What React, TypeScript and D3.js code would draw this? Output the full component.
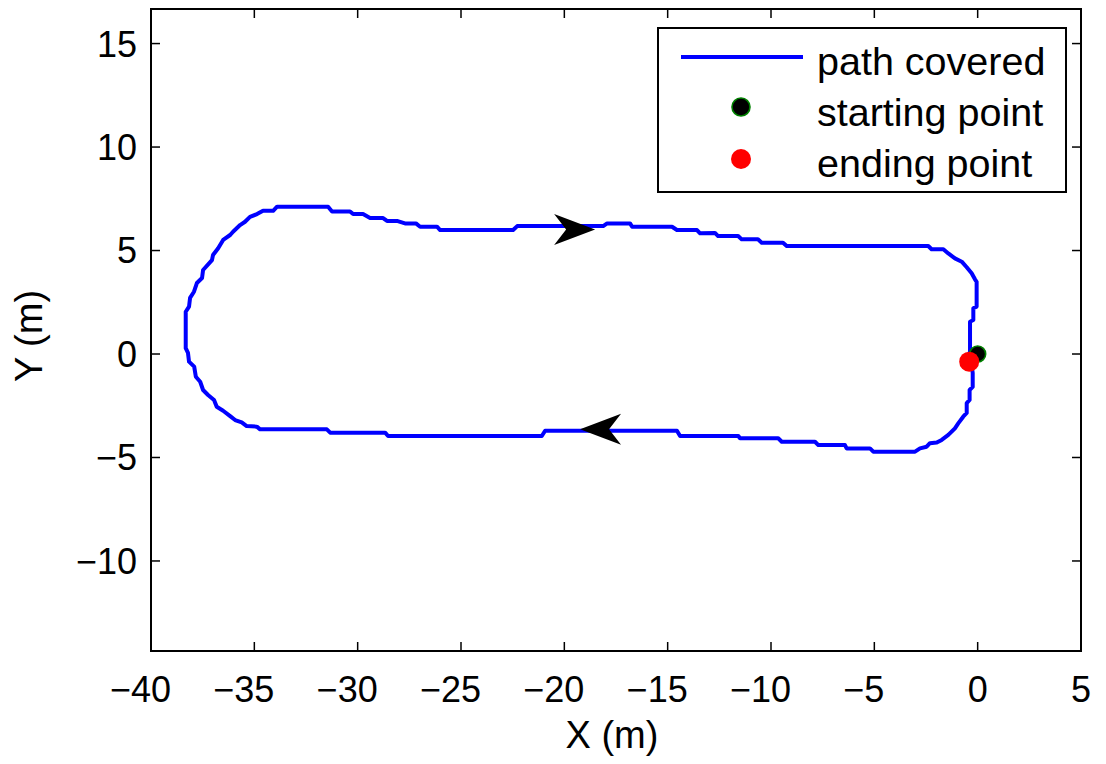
import React from "react";
import * as d3 from "d3";

// ---- data ----
const xTicks = [-40, -35, -30, -25, -20, -15, -10, -5, 0, 5];
const yTicks = [-10, -5, 0, 5, 10, 15];
const xDomain = [-40, 5];
const yDomain = [-14.35, 16.67];

// path covered: [x, y] in metres
const pathPoints: [number, number][] = [
  [-0.35, -0.1], [-0.24, -0.92], [-0.24, -1.59], [-0.39, -1.74], [-0.39, -2.22],
  [-0.53, -2.37], [-0.53, -2.85], [-0.7, -3.03], [-0.94, -3.35], [-1.1, -3.59],
  [-1.42, -3.91], [-1.74, -4.15], [-1.98, -4.28], [-2.31, -4.31], [-2.47, -4.48],
  [-2.79, -4.56], [-3.03, -4.72], [-5.05, -4.72], [-5.21, -4.56], [-6.34, -4.56],
  [-6.42, -4.4], [-7.71, -4.4], [-7.87, -4.24], [-9.48, -4.24], [-9.65, -4.07],
  [-11.5, -4.07], [-11.58, -3.96], [-14.4, -3.96], [-14.55, -3.71], [-20.93, -3.71],
  [-21.09, -3.96], [-28.53, -3.96], [-28.67, -3.8], [-31.33, -3.8], [-31.49, -3.64],
  [-34.72, -3.64], [-34.88, -3.51], [-35.37, -3.48], [-35.61, -3.3], [-35.93, -3.19],
  [-36.17, -3.0], [-36.51, -2.74], [-36.82, -2.55], [-36.95, -2.22], [-37.24, -1.98],
  [-37.48, -1.74], [-37.62, -1.34], [-37.83, -1.1], [-37.91, -0.61], [-38.16, -0.37],
  [-38.21, 0.05], [-38.32, 0.28], [-38.32, 2.04], [-38.16, 2.29], [-38.11, 2.71],
  [-37.92, 3.01], [-37.78, 3.43], [-37.53, 3.67], [-37.48, 4.06], [-37.05, 4.54],
  [-37.0, 4.78], [-36.75, 5.11], [-36.51, 5.51], [-36.17, 5.75], [-36.03, 5.91],
  [-35.69, 6.23], [-35.45, 6.39], [-35.21, 6.63], [-34.87, 6.76], [-34.58, 6.92],
  [-34.09, 6.92], [-33.9, 7.12], [-31.43, 7.12], [-31.24, 6.89], [-30.37, 6.89],
  [-30.22, 6.76], [-29.74, 6.76], [-29.4, 6.57], [-28.77, 6.57], [-28.58, 6.43],
  [-28.1, 6.43], [-27.71, 6.31], [-27.18, 6.31], [-26.98, 6.15], [-26.16, 6.15],
  [-26.01, 5.99], [-22.48, 5.99], [-22.28, 6.18], [-18.12, 6.18], [-17.93, 6.31],
  [-16.82, 6.31], [-16.72, 6.15], [-14.79, 6.15], [-14.55, 5.99], [-13.58, 5.99],
  [-13.43, 5.83], [-12.71, 5.85], [-12.56, 5.7], [-11.59, 5.7], [-11.42, 5.54],
  [-10.63, 5.54], [-10.45, 5.38], [-9.42, 5.38], [-9.24, 5.22], [-2.39, 5.22],
  [-2.23, 5.06], [-1.66, 5.06], [-1.42, 4.86], [-1.1, 4.62], [-0.77, 4.46],
  [-0.53, 4.19], [-0.29, 3.9], [-0.13, 3.61], [-0.05, 3.49], [-0.05, 2.29],
  [-0.21, 2.21], [-0.21, 1.64], [-0.37, 1.56], [-0.37, 0.19], [-0.41, -0.37],
];

const startPoint: [number, number] = [0, 0];
const endPoint: [number, number] = [-0.41, -0.37];

// direction arrows: tip position and heading (degrees, 0 = +x)
const arrowTips: [number, number][] = [[-18.51, 6.02], [-19.24, -3.64]];
const arrowHeadings = [0, 180];

const legendLabels = ["path covered", "starting point", "ending point"];

// ---- layout ----
const W = 1106;
const H = 764;
const plot = { left: 151, right: 1081, top: 9, bottom: 651 };
const FONT = "'Liberation Sans', Arial, Helvetica, sans-serif";
const TICK_FS = 36;

export default function App() {
  const x = d3.scaleLinear().domain(xDomain).range([plot.left, plot.right]);
  const y = d3.scaleLinear().domain(yDomain).range([plot.bottom, plot.top]);
  const line = d3
    .line<[number, number]>()
    .x((d) => x(d[0]))
    .y((d) => y(d[1]));

  const tickLen = 9;
  const arrowShape = "M0,0 L-41,-15.5 L-29,0 L-41,15.5 Z";

  const lg = { x: 658, y: 28, w: 408, h: 164 };
  const markerY = [57, 107, 159];
  const textBase = [74.5, 126, 176.5];
  const fmt = (t: number) => (t < 0 ? "\u2212" + Math.abs(t) : String(t));

  return (
    <svg
      width={W}
      height={H}
      style={{ position: "absolute", left: 0, top: 0, background: "#fff" }}
      fontFamily={FONT}
    >
      <rect x={0} y={0} width={W} height={H} fill="#fff" />
      {/* path */}
      <path
        d={line(pathPoints) ?? ""}
        fill="none"
        stroke="#0000ff"
        strokeWidth={4}
        strokeLinejoin="round"
      />
      {/* arrows */}
      {arrowTips.map((t, i) => (
        <path
          key={i}
          d={arrowShape}
          fill="#000"
          transform={`translate(${x(t[0])},${y(t[1])}) rotate(${-arrowHeadings[i]})`}
        />
      ))}
      {/* start and end points */}
      <circle cx={x(startPoint[0])} cy={y(startPoint[1])} r={8} fill="#000" stroke="#008000" strokeWidth={1.6} />
      <circle cx={x(endPoint[0])} cy={y(endPoint[1])} r={10} fill="#ff0000" />

      {/* frame */}
      <rect
        x={plot.left}
        y={plot.top}
        width={plot.right - plot.left}
        height={plot.bottom - plot.top}
        fill="none"
        stroke="#000"
        strokeWidth={2}
      />
      {/* ticks */}
      {xTicks.map((t) => {
        const digits = String(Math.abs(t));
        const halfW = (digits.length * 0.556 * TICK_FS) / 2;
        return (
          <g key={"x" + t}>
            <line x1={x(t)} x2={x(t)} y1={plot.bottom} y2={plot.bottom - tickLen} stroke="#000" strokeWidth={1.5} />
            <line x1={x(t)} x2={x(t)} y1={plot.top} y2={plot.top + tickLen} stroke="#000" strokeWidth={1.5} />
            <text x={x(t)} y={702} textAnchor="middle" fontSize={TICK_FS} fill="#000">
              {digits}
            </text>
            {t < 0 && (
              <text x={x(t) - halfW} y={702} textAnchor="end" fontSize={TICK_FS} fill="#000">
                {"\u2212"}
              </text>
            )}
          </g>
        );
      })}
      {yTicks.map((t) => (
        <g key={"y" + t}>
          <line x1={plot.left} x2={plot.left + tickLen} y1={y(t)} y2={y(t)} stroke="#000" strokeWidth={1.5} />
          <line x1={plot.right} x2={plot.right - tickLen} y1={y(t)} y2={y(t)} stroke="#000" strokeWidth={1.5} />
          <text x={137} y={y(t)} dy="0.36em" textAnchor="end" fontSize={TICK_FS} fill="#000">
            {fmt(t)}
          </text>
        </g>
      ))}
      {/* axis labels */}
      <text x={612} y={748} textAnchor="middle" fontSize={38} fill="#000">
        X (m)
      </text>
      <text
        transform={`translate(42,${(plot.top + plot.bottom) / 2 + 6}) rotate(-90)`}
        textAnchor="middle"
        fontSize={38}
        fill="#000"
      >
        Y (m)
      </text>

      {/* legend */}
      <rect x={lg.x} y={lg.y} width={lg.w} height={lg.h} fill="#fff" stroke="#000" strokeWidth={2} />
      <line x1={681} x2={803} y1={markerY[0]} y2={markerY[0]} stroke="#0000ff" strokeWidth={4} />
      <circle cx={741} cy={markerY[1]} r={9} fill="#000" stroke="#008000" strokeWidth={1.6} />
      <circle cx={741} cy={markerY[2]} r={10} fill="#ff0000" />
      {legendLabels.map((l, i) => (
        <text key={l} x={817} y={textBase[i]} fontSize={39.5} fill="#000">
          {l}
        </text>
      ))}
    </svg>
  );
}
